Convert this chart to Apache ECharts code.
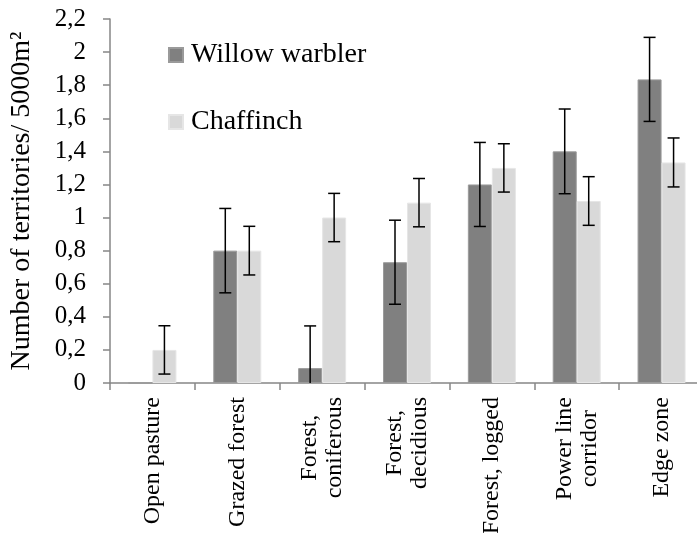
<!DOCTYPE html>
<html>
<head>
<meta charset="utf-8">
<script src="https://cdn.jsdelivr.net/npm/echarts@6/dist/echarts.min.js"></script>
<style>html,body{margin:0;padding:0;background:#fff;}#c{width:697px;height:533px;}</style>
</head>
<body>
<div id="c"></div>
<script>
var categories = ['Open pasture', 'Grazed forest', 'Forest,\nconiferous', 'Forest,\ndecidious', 'Forest, logged', 'Power line\ncorridor', 'Edge zone'];
var willowValues = [0, 0.8, 0.09, 0.73, 1.2, 1.4, 1.835];
var willowErrors = [0, 0.255, 0.255, 0.254, 0.254, 0.256, 0.254];
var chaffinchValues = [0.2, 0.8, 1.0, 1.09, 1.3, 1.1, 1.333];
var chaffinchErrors = [0.146, 0.147, 0.146, 0.146, 0.146, 0.147, 0.148];
var yTicks = ['0', '0,2', '0,4', '0,6', '0,8', '1', '1,2', '1,4', '1,6', '1,8', '2', '2,2'];

var FONT = "'Liberation Serif', 'Times New Roman', serif";
var BAR_W = 24;
var CAP = 6;

function errData(values, errors) {
  var out = [];
  for (var i = 0; i < values.length; i++) {
    if (errors[i] > 0) out.push([i, values[i] - errors[i], values[i] + errors[i]]);
  }
  return out;
}

function makeRender(offset) {
  return function (params, api) {
    var idx = api.value(0);
    var lo = api.value(1);
    var hi = api.value(2);
    var loClamped = Math.max(0, lo);
    var pHi = api.coord([idx, hi]);
    var pLo = api.coord([idx, loClamped]);
    var x = pHi[0] + offset;
    var style = { stroke: '#000', lineWidth: 1.5 };
    var children = [
      { type: 'line', shape: { x1: x, y1: pHi[1], x2: x, y2: pLo[1] }, style: style },
      { type: 'line', shape: { x1: x - CAP, y1: pHi[1], x2: x + CAP, y2: pHi[1] }, style: style }
    ];
    if (lo >= 0) {
      children.push({ type: 'line', shape: { x1: x - CAP, y1: pLo[1], x2: x + CAP, y2: pLo[1] }, style: style });
    }
    return { type: 'group', children: children };
  };
}

var chart = echarts.init(document.getElementById('c'), null, { renderer: 'canvas' });
chart.setOption({
  animation: false,
  backgroundColor: '#fff',
  textStyle: { fontFamily: FONT },
  grid: { left: 110, top: 19, width: 594, height: 364, containLabel: false, outerBoundsMode: 'none' },
  legend: {
    orient: 'vertical',
    left: 163,
    top: 35,
    itemWidth: 14,
    itemHeight: 14,
    itemGap: 37,
    icon: 'rect',
    data: ['Willow warbler', 'Chaffinch'],
    textStyle: { fontFamily: FONT, fontSize: 28, color: '#000', lineHeight: 30, padding: [0, 0, 0, 3] }
  },
  xAxis: {
    type: 'category',
    data: categories,
    boundaryGap: true,
    axisLine: { lineStyle: { color: '#868686', width: 1.5 } },
    axisTick: { show: true, alignWithLabel: false, length: 7, lineStyle: { color: '#868686', width: 1.5 } },
    axisLabel: {
      interval: 0, rotate: 90, margin: 14, color: '#000',
      formatter: function (v) {
        return v.split('\n').map(function (s) { return '{c|' + s + '}'; }).join('\n');
      },
      rich: { c: { align: 'center', fontFamily: FONT, fontSize: 24, lineHeight: 25, color: '#000' } }
    },
    splitLine: { show: false }
  },
  yAxis: {
    type: 'value',
    min: 0,
    max: 2.2,
    interval: 0.2,
    name: 'Number of territories/ 5000m²',
    nameLocation: 'middle',
    nameGap: 74,
    nameRotate: 90,
    nameTextStyle: { fontFamily: FONT, fontSize: 28, color: '#000' },
    axisLine: { show: true, lineStyle: { color: '#868686', width: 1.5 } },
    axisTick: { show: true, length: 7, lineStyle: { color: '#868686', width: 1.5 } },
    axisLabel: {
      margin: 24, fontFamily: FONT, fontSize: 25, color: '#000',
      formatter: function (v) { return yTicks[Math.round(v / 0.2)]; }
    },
    splitLine: { show: false }
  },
  series: [
    {
      name: 'Willow warbler', type: 'bar', data: willowValues, barWidth: BAR_W, barGap: '0%',
      itemStyle: { color: '#808080', borderColor: '#9a9a9a', borderWidth: 1 }
    },
    {
      name: 'Chaffinch', type: 'bar', data: chaffinchValues, barWidth: BAR_W, barGap: '0%',
      itemStyle: { color: '#d9d9d9', borderColor: '#e6e6e6', borderWidth: 1 }
    },
    {
      type: 'custom', data: errData(willowValues, willowErrors), renderItem: makeRender(-BAR_W / 2),
      encode: { x: 0, y: [1, 2] }, z: 10, silent: true
    },
    {
      type: 'custom', data: errData(chaffinchValues, chaffinchErrors), renderItem: makeRender(BAR_W / 2),
      encode: { x: 0, y: [1, 2] }, z: 10, silent: true
    }
  ]
});
</script>
</body>
</html>
